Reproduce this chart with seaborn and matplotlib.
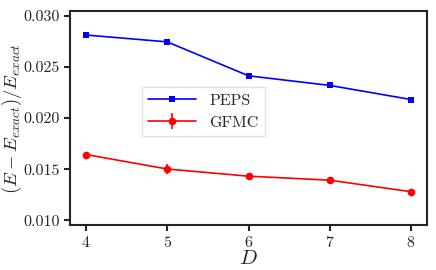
import matplotlib
matplotlib.use("Agg")
import matplotlib.pyplot as plt
import seaborn as sns

# bond dimension and relative energy errors
D = [4, 5, 6, 7, 8]
peps = [0.02813, 0.02746, 0.02414, 0.02320, 0.02182]
gfmc = [0.01644, 0.01502, 0.01432, 0.01393, 0.01280]
gfmc_err = [0.00008, 0.00048, 0.00010, 0.00010, 0.00008]

sns.set_style("ticks")
plt.rcParams["font.family"] = ["cmr10", "DejaVu Serif"]
plt.rcParams["mathtext.fontset"] = "cm"
plt.rcParams["axes.formatter.use_mathtext"] = True

fig, ax = plt.subplots(figsize=(4.36, 2.70), dpi=100)
sns.lineplot(x=D, y=peps, ax=ax, color="blue", marker="s", markersize=5,
             markeredgewidth=0, linewidth=1.2, label="PEPS")
ax.errorbar(D, gfmc, yerr=gfmc_err, color="red", marker="o", markersize=4.5,
            linewidth=1.2, elinewidth=1.2, label="GFMC")

ax.set_xticks(D)
ax.set_ylim(0.0095, 0.0305)
ax.set_yticks([0.010, 0.015, 0.020, 0.025, 0.030])
ax.set_yticklabels(["0.010", "0.015", "0.020", "0.025", "0.030"])
ax.set_xlabel(r"$D$", fontsize=15, labelpad=0)
ax.set_ylabel(r"$(E-E_{exact})/E_{exact}$", fontsize=13.5, labelpad=0)
ax.tick_params(labelsize=11.5, width=1.5, length=4, pad=3)
for s in ax.spines.values():
    s.set_linewidth(1.5)
leg = ax.legend(loc="center left", bbox_to_anchor=(0.18, 0.53), fontsize=11.5,
                frameon=True, fancybox=False, handlelength=3)
leg.get_frame().set_edgecolor("#dddddd")

plt.subplots_adjust(left=0.16, right=0.98, top=0.96, bottom=0.165)
plt.savefig("out.png", dpi=100)
